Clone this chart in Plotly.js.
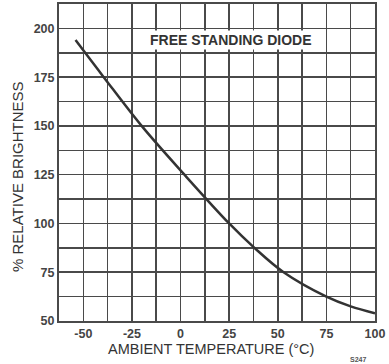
<!DOCTYPE html>
<html>
<head>
<meta charset="utf-8">
<script src="https://cdn.plot.ly/plotly-3.0.1.min.js"></script>
<style>
  html, body { margin: 0; padding: 0; background: #fff; }
  #chart { width: 389px; height: 364px; }
</style>
</head>
<body>
<div id="chart"></div>
<script>
// Relative brightness of a free standing diode versus ambient temperature
const temperatureC = [-54, -39.5, -20, 2, 25, 38, 53, 75, 87.5, 100];
const relativeBrightness = [194, 175, 150, 125, 100, 87.5, 75, 62.5, 57.5, 54];

const xTickVals = [-50, -25, 0, 25, 50, 75, 100];
const xTickText = ['-50', '-25', '0', '25', '50', '75', '100'];
const yTickVals = [50, 75, 100, 125, 150, 175, 200];
const yTickText = ['50', '75', '100', '125', '150', '175', '200'];

const xRange = [-62.5, 100];
const yRange = [50, 212.5];
const gridStep = 12.5;

const ink = '#333';
const gridInk = '#4a4a4a';
const font = 'Liberation Sans, Arial, sans-serif';

const curve = {
  x: temperatureC,
  y: relativeBrightness,
  type: 'scatter',
  mode: 'lines',
  line: { color: ink, width: 2.5, shape: 'spline', smoothing: 1 },
  hoverinfo: 'skip'
};
// Empty trace that makes the fine grid axes (x2/y2) part of the plot
const gridHolder = { x: [], y: [], xaxis: 'x2', yaxis: 'y2', type: 'scatter', mode: 'lines', hoverinfo: 'skip' };

const labelAxis = {
  showline: true,
  mirror: true,
  linecolor: gridInk,
  linewidth: 2,
  showgrid: false,
  zeroline: false,
  ticks: '',
  tickmode: 'array',
  tickfont: { family: font, size: 12.5, color: '#444', weight: 'bold' }
};
const gridAxis = {
  showgrid: true,
  gridcolor: gridInk,
  gridwidth: 1.6,
  zeroline: false,
  showline: false,
  showticklabels: false,
  ticks: '',
  tickmode: 'linear',
  dtick: gridStep
};

const plotL = 59, plotT = 4, plotW = 389 - 59 - 14, plotH = 364 - 4 - 43;
// Helper: place a label at page pixel coordinates in paper units
const px = (x, y) => ({ x: (x - plotL) / plotW, y: 1 - (y - plotT) / plotH });

const layout = {
  width: 389,
  height: 364,
  margin: { l: 59, r: 14, t: 4, b: 43 },
  paper_bgcolor: '#fff',
  plot_bgcolor: '#fff',
  showlegend: false,
  xaxis: Object.assign({}, labelAxis, { range: xRange, tickvals: xTickVals, ticktext: xTickText }),
  yaxis: Object.assign({}, labelAxis, { range: yRange, tickvals: yTickVals, ticktext: yTickText }),
  xaxis2: Object.assign({}, gridAxis, { range: xRange, tick0: xRange[0], overlaying: 'x', anchor: 'y2' }),
  yaxis2: Object.assign({}, gridAxis, { range: yRange, tick0: yRange[0], overlaying: 'y', anchor: 'x2' }),
  annotations: [
    Object.assign(px(231, 40), {
      text: '<b>FREE STANDING DIODE</b>',
      font: { family: font, size: 14, color: ink },
      bgcolor: '#fff'
    }),
    Object.assign(px(211, 349), {
      text: 'AMBIENT TEMPERATURE (°C)',
      font: { family: font, size: 14.5, color: ink }
    }),
    Object.assign(px(17, 177), {
      text: '% RELATIVE BRIGHTNESS',
      textangle: -90,
      font: { family: font, size: 15, color: ink }
    }),
    Object.assign(px(358, 360), {
      text: '<b>S247</b>',
      font: { family: font, size: 7, color: '#555' }
    })
  ].map(a => Object.assign(a, {
    xref: 'paper', yref: 'paper', showarrow: false,
    xanchor: 'center', yanchor: 'middle'
  }))
};

Plotly.newPlot('chart', [gridHolder, curve], layout, { staticPlot: true, displayModeBar: false });
</script>
</body>
</html>
